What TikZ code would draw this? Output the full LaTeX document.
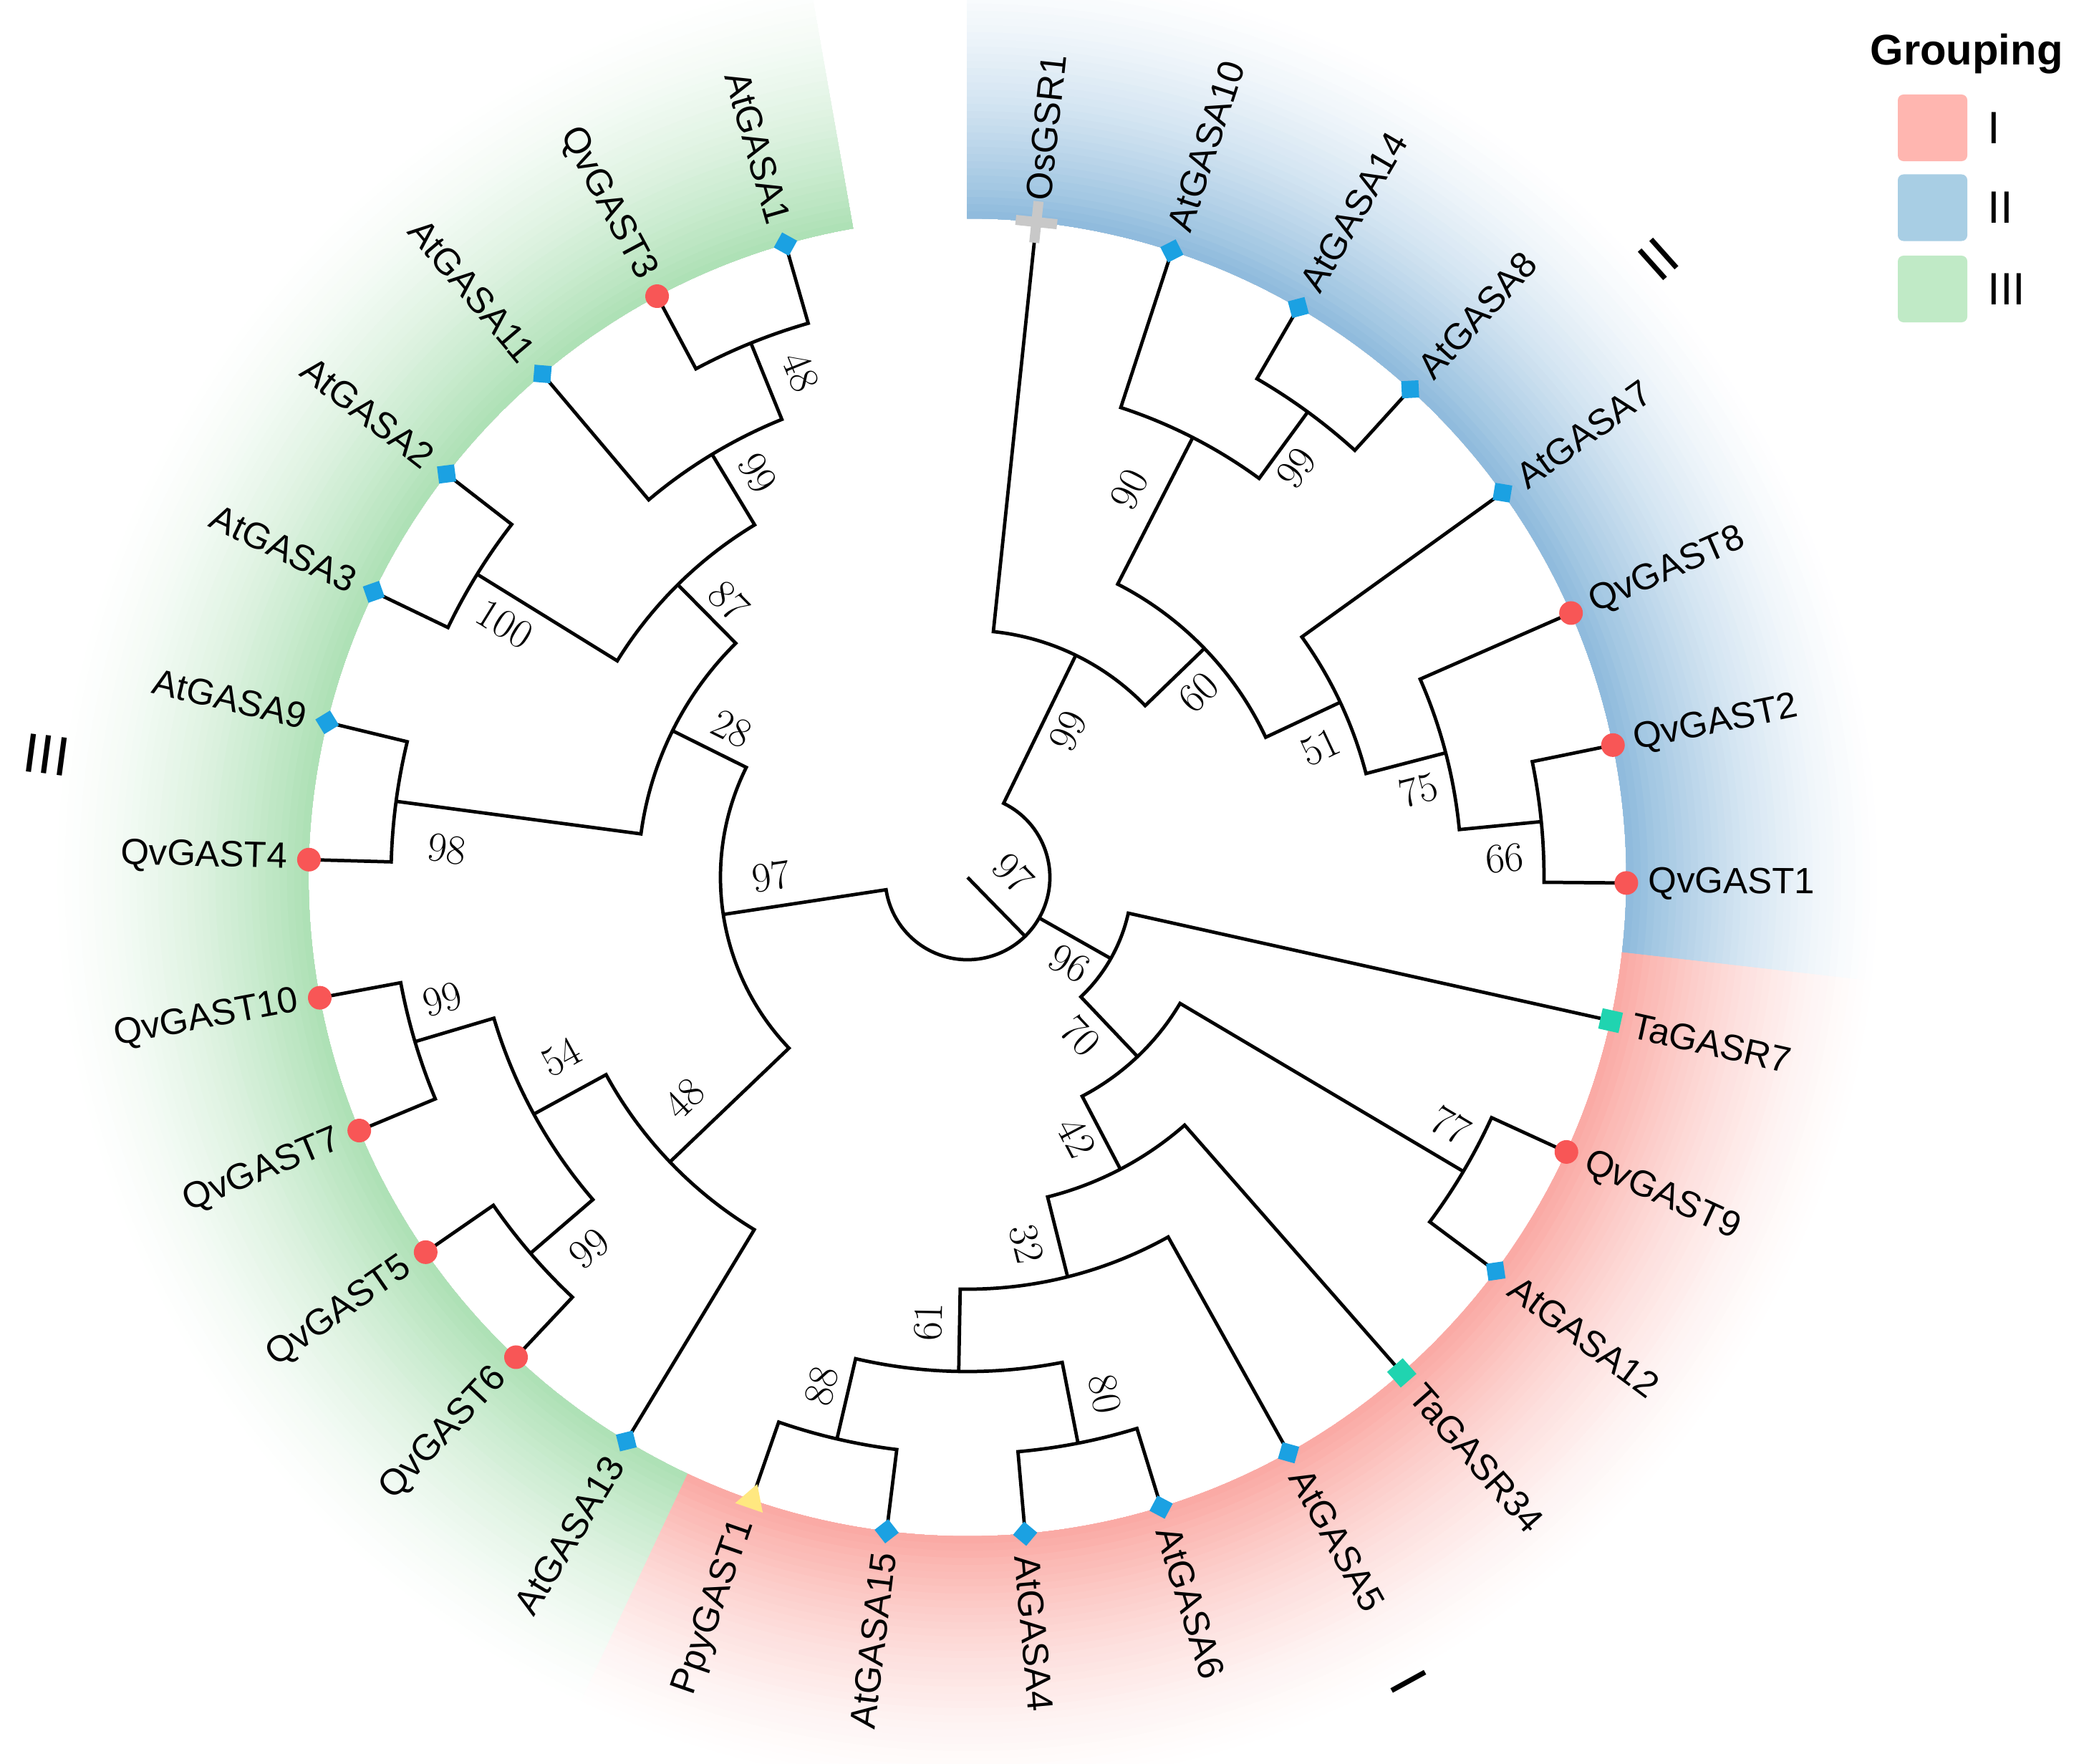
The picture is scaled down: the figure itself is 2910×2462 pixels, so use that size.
\documentclass[tikz,border=0pt]{standalone}
\usepackage{fontspec}
\newfontfamily\labfont{Liberation Sans}
\usepackage{xcolor}
\usetikzlibrary{shapes.geometric,shapes.misc}
\definecolor{bandred}{RGB}{250,166,160}
\definecolor{bandblue}{RGB}{138,184,219}
\definecolor{bandgreen}{RGB}{170,223,178}
\definecolor{legred}{RGB}{255,182,176}
\definecolor{legblue}{RGB}{168,206,228}
\definecolor{leggreen}{RGB}{192,234,198}
\definecolor{atblue}{RGB}{27,161,226}
\definecolor{qvred}{RGB}{248,86,86}
\definecolor{tateal}{RGB}{32,212,176}
\definecolor{ppyyellow}{RGB}{255,232,128}
\definecolor{osgray}{RGB}{200,200,200}
\newcommand{\clade}[7]{%
  \coordinate (#1) at (#2:#3);
  \draw[branch] (#4) -- (#5:#3) arc[start angle=#5, end angle=#7, radius=#3] -- (#6);}
\newcommand{\band}[4]{%
  \fill[#1] (#2:920) arc[start angle=#2, end angle=#3, radius=920] -- (#3:#4) arc[start angle=#3, end angle=#2, radius=#4] -- cycle;}
\def\leaves{0/OsGSR1/os, 1/AtGASA10/at, 2/AtGASA14/at, 3/AtGASA8/at, 4/AtGASA7/at,
  5/QvGAST8/qv, 6/QvGAST2/qv, 7/QvGAST1/qv, 8/TaGASR7/ta, 9/QvGAST9/qv, 10/AtGASA12/at,
  11/TaGASR34/ta, 12/AtGASA5/at, 13/AtGASA6/at, 14/AtGASA4/at, 15/AtGASA15/at,
  16/PpyGAST1/ppy, 17/AtGASA13/at, 18/QvGAST6/qv, 19/QvGAST5/qv, 20/QvGAST7/qv,
  21/QvGAST10/qv, 22/QvGAST4/qv, 23/AtGASA9/at, 24/AtGASA3/at, 25/AtGASA2/at,
  26/AtGASA11/at, 27/QvGAST3/qv, 28/AtGASA1/at}

\begin{document}
\begin{tikzpicture}[
  x=0.01cm, y=0.01cm,
  branch/.style={line width=1.35pt, black, line join=miter},
  mkat/.style={rectangle, fill=atblue, minimum size=0.24cm, inner sep=0pt, rotate=45},
  mkqv/.style={circle, fill=qvred, minimum size=0.33cm, inner sep=0pt},
  mkta/.style={rectangle, fill=tateal, minimum size=0.29cm, inner sep=0pt},
  mkppy/.style={regular polygon, regular polygon sides=3, fill=ppyyellow, minimum size=0.47cm, inner sep=0pt, rotate=90},
  mkos/.style={cross out, draw=osgray, line width=0.14cm, minimum size=0.27cm, inner sep=0pt, rotate=45},
  leaflab/.style={font=\labfont\fontsize{14.5}{17}\selectfont, inner sep=0pt},
  bslab/.style={font=\fontsize{16.5}{19}\selectfont, inner sep=0pt},
  cladelab/.style={font=\labfont\fontsize{22}{26}\selectfont, inner sep=0pt},
  legbox/.style={rectangle, rounded corners=0.08cm, minimum width=0.97cm, minimum height=0.93cm, inner sep=0pt},
  legtxt/.style={font=\labfont\fontsize{18}{21}\selectfont, inner sep=0pt, anchor=west},
]
  \clip (-1351,-1237) rectangle (1559,1225);
  \fill[white] (-1351,-1237) rectangle (1559,1225);

  \foreach \rr in {1280,1270,...,930}{
    \pgfmathtruncatemacro{\pc}{100*(1-(\rr-920)/360)*(1-0.6*(\rr-920)/360)}
    \band{bandblue!\pc!white}{90.04}{-6.53}{\rr}
    \band{bandred!\pc!white}{-6.53}{-115.16}{\rr}
    \band{bandgreen!\pc!white}{-115.16}{-260}{\rr}
  }

  \foreach \i/\nm/\kind in \leaves{
    \pgfmathsetmacro{\a}{84-12.07*\i}
    \coordinate (\nm) at (\a:920);
  }

  \clade{Nl}{53.83}{805}{AtGASA14}{59.86}{AtGASA8}{47.79}
  \clade{Nm}{62.88}{690}{AtGASA10}{71.93}{Nl}{53.83}
  \clade{Nn}{5.55}{805}{QvGAST2}{11.58}{QvGAST1}{-0.49}
  \clade{No}{14.60}{690}{QvGAST8}{23.65}{Nn}{5.55}
  \clade{Np}{25.16}{575}{AtGASA7}{35.72}{No}{14.60}
  \clade{Nq}{44.02}{460}{Nm}{62.88}{Np}{25.16}
  \clade{Nr}{64.01}{345}{OsGSR1}{84.00}{Nq}{44.02}

  \clade{Ns}{-30.67}{805}{QvGAST9}{-24.63}{AtGASA12}{-36.70}
  \clade{Nt}{-103.09}{805}{AtGASA15}{-97.05}{PpyGAST1}{-109.12}
  \clade{Nu}{-78.95}{805}{AtGASA6}{-72.91}{AtGASA4}{-84.98}
  \clade{Nv}{-91.02}{690}{Nu}{-78.95}{Nt}{-103.09}
  \clade{Nw}{-75.93}{575}{AtGASA5}{-60.84}{Nv}{-91.02}
  \clade{Nx}{-62.35}{460}{TaGASR34}{-48.77}{Nw}{-75.93}
  \clade{Ny}{-46.51}{345}{Ns}{-30.67}{Nx}{-62.35}
  \clade{Nz}{-29.53}{230}{TaGASR7}{-12.56}{Ny}{-46.51}

  \clade{Na}{-247.93}{805}{QvGAST3}{-241.89}{AtGASA1}{-253.96}
  \clade{Nb}{-238.87}{690}{AtGASA11}{-229.82}{Na}{-247.93}
  \clade{Nc}{-211.72}{805}{AtGASA3}{-205.68}{AtGASA2}{-217.75}
  \clade{Nd}{-225.29}{575}{Nc}{-211.72}{Nb}{-238.87}
  \clade{Ne}{-187.58}{805}{QvGAST4}{-181.54}{AtGASA9}{-193.61}
  \clade{Nf}{-206.43}{460}{Ne}{-187.58}{Nd}{-225.29}
  \clade{Ng}{-163.44}{805}{QvGAST7}{-157.40}{QvGAST10}{-169.47}
  \clade{Nh}{-139.30}{805}{QvGAST6}{-133.26}{QvGAST5}{-145.33}
  \clade{Ni}{-151.37}{690}{Nh}{-139.30}{Ng}{-163.44}
  \clade{Nj}{-136.28}{575}{AtGASA13}{-121.19}{Ni}{-151.37}
  \clade{Nk}{-171.36}{345}{Nj}{-136.28}{Nf}{-206.43}

  \coordinate (origin) at (0,0);
  \coordinate (root) at (-45.63:115);
  \draw[branch] (origin) -- (root);
  \draw[branch] (Nr) -- (64.01:115) arc[start angle=64.01, end angle=-171.36, radius=115] -- (Nk);
  \draw[branch] (Nz) -- (-29.53:115);

  \foreach \i/\nm/\kind in \leaves{
    \pgfmathsetmacro{\a}{84-12.07*\i}
    \node[mk\kind, rotate=\a] (m\nm) at (\nm) {};
    \ifnum\i<15
      \node[leaflab, anchor=west, rotate=\a] (t\nm) at (\a:950) {\nm};
    \else
      \node[leaflab, anchor=east, rotate=\a+180] (t\nm) at (\a:950) {\nm};
    \fi
  }

  \foreach \x/\y/\r/\t [count=\n] in {-233/705.5/-67.93/48, -293/564.5/-58.87/99,
      -646.3/353.1/-31.72/100, -333.2/386.3/-45.29/87, -727.1/39.1/-7.58/98,
      -329.1/207/-26.43/28, -274.2/1.7/8.64/97, -733.3/-170.3/16.56/99,
      -567.5/-251.2/28.63/54, -395.3/-309/43.72/48, -528.1/-518.3/40.70/99,
      63.7/5.9/-45.63/97, 140.4/204.9/64.01/99, 142.3/-120/-29.53/96,
      157.3/-221.7/-46.51/70, 152.3/-363.3/-62.35/42, 82.4/-511.6/-75.93/32,
      -54.4/-621/88.98/61, -203.7/-710.3/76.91/88, 192.2/-721.4/-78.95/80,
      674/-346.4/-30.67/77, 225.7/541.7/62.88/90, 459/571.7/53.83/99,
      322.3/258.3/44.02/60, 492.3/181.7/25.16/51, 629.4/122/14.60/75,
      749.9/26.6/5.55/66}{
    \node[bslab, rotate=\r] (bs\n) at (\x,\y) {\t};
  }

  \node[cladelab, rotate=41.8] (gII) at (965,863) {II};
  \node[cladelab, rotate=-7.6] (gIII) at (-1286,171) {III};
  \node[cladelab, rotate=-61.2] (gI) at (616,-1123) {I};

  \node[font=\labfont\bfseries\fontsize{17}{20}\selectfont, anchor=base] (legtitle) at (1395,1135) {Grouping};
  \node[legbox, fill=legred] (legI) at (1347.5,1046.5) {};
  \node[legbox, fill=legblue] (legII) at (1347.5,935) {};
  \node[legbox, fill=leggreen] (legIII) at (1347.5,821.5) {};
  \node[legtxt] (legIt) at (1424,1046.5) {I};
  \node[legtxt] (legIIt) at (1424,935) {II};
  \node[legtxt] (legIIIt) at (1424,821.5) {III};
\end{tikzpicture}
\end{document}
